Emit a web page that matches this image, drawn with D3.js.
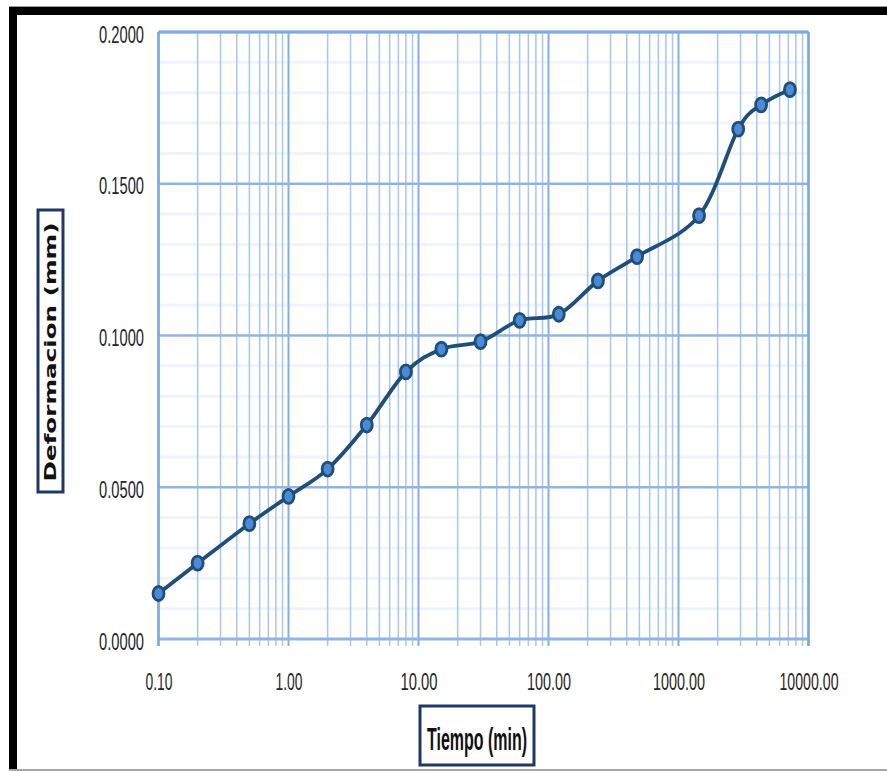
<!DOCTYPE html>
<html><head><meta charset="utf-8">
<script src="https://cdn.jsdelivr.net/npm/d3@7"></script>
<style>html,body{margin:0;padding:0;background:#fff;}svg{display:block;}</style>
</head><body>
<script>
// ---- data ----
const tiempo = [0.1, 0.2, 0.5, 1, 2, 4, 8, 15, 30, 60, 120, 240, 480, 1440, 2880, 4320, 7200];
const deformacion = [0.015, 0.025, 0.038, 0.047, 0.056, 0.0705, 0.088, 0.0955, 0.098, 0.105, 0.107, 0.118, 0.126, 0.1395, 0.168, 0.176, 0.181];
const xTickValues = [0.1, 1, 10, 100, 1000, 10000];
const xTickLabels = ["0.10", "1.00", "10.00", "100.00", "1000.00", "10000.00"];
const yTickValues = [0, 0.05, 0.1, 0.15, 0.2];
const yTickLabels = ["0.0000", "0.0500", "0.1000", "0.1500", "0.2000"];
const xTitle = "Tiempo (min)";
const yTitle = "Deformacion (mm)";

const W = 887, H = 771;
const svg = d3.select("body").append("svg").attr("width", W).attr("height", H);

// outer frame
svg.append("rect").attr("x", 9).attr("y", 6).attr("width", W - 9).attr("height", 1).attr("fill", "#999");
svg.append("rect").attr("x", 9).attr("y", 7).attr("width", W - 9).attr("height", 8).attr("fill", "#000");
svg.append("rect").attr("x", 9).attr("y", 7).attr("width", 8).attr("height", H - 7).attr("fill", "#000");
svg.append("rect").attr("x", 9).attr("y", 769).attr("width", W - 9).attr("height", 2).attr("fill", "#a6a6a6");

const L = 158.5, R = 808.5, T = 32, B = 639;
const x = d3.scaleLog().domain([0.1, 10000]).range([L, R]);
const y = d3.scaleLinear().domain([0, 0.2]).range([B, T]);

// minor horizontal grid
const yMinor = d3.range(0, 0.2001, 0.01).filter(v => Math.abs(v / 0.05 - Math.round(v / 0.05)) > 1e-6);
svg.append("g").selectAll("line").data(yMinor).join("line")
  .attr("x1", L).attr("x2", R).attr("y1", d => y(d)).attr("y2", d => y(d))
  .attr("stroke", "#f0f4fa").attr("stroke-width", 3);

// vertical grid (all log ticks)
const xAll = [];
for (let e = -1; e < 4; e++) for (let m = 1; m <= 9; m++) xAll.push(m * Math.pow(10, e));
xAll.push(10000);
const isMajor = d => xTickValues.some(t => Math.abs(t - d) / t < 1e-6);
svg.append("g").selectAll("line").data(xAll).join("line")
  .attr("x1", d => x(d)).attr("x2", d => x(d)).attr("y1", T).attr("y2", B + 7)
  .attr("stroke", d => isMajor(d) ? "#86aee0" : "#a8c7ed")
  .attr("stroke-width", d => isMajor(d) ? 2 : 1.5);

// major horizontal grid
svg.append("g").selectAll("line").data(yTickValues).join("line")
  .attr("x1", L).attr("x2", R).attr("y1", d => y(d)).attr("y2", d => y(d))
  .attr("stroke", "#8fb5e5").attr("stroke-width", d => d === 0 ? 3 : 2.5);

// plot border
svg.append("line").attr("x1", L).attr("x2", R).attr("y1", T).attr("y2", T).attr("stroke", "#7fa8de").attr("stroke-width", 3);
svg.append("line").attr("x1", R).attr("x2", R).attr("y1", T).attr("y2", B + 7).attr("stroke", "#7fa8de").attr("stroke-width", 2.5);
svg.append("line").attr("x1", L).attr("x2", L).attr("y1", T).attr("y2", B + 7).attr("stroke", "#7fa8de").attr("stroke-width", 2.5);

// axes labels
const xAxis = d3.axisBottom(x).tickValues(xTickValues).tickFormat((d, i) => xTickLabels[i]).tickSize(0).tickPadding(0);
const gx = svg.append("g").attr("transform", `translate(0,${B})`).call(xAxis);
gx.select(".domain").remove();
const xWidths = [27, 27, 37, 44, 52, 59];
gx.selectAll("text").attr("y", 51).attr("dy", 0)
  .attr("font-family", "'Liberation Sans Narrow', 'Liberation Sans', Arial, sans-serif")
  .attr("font-size", 24).attr("fill", "#262626")
  .attr("textLength", (d, i) => xWidths[i]).attr("lengthAdjust", "spacingAndGlyphs");

const yAxis = d3.axisLeft(y).tickValues(yTickValues).tickFormat((d, i) => yTickLabels[i]).tickSize(0).tickPadding(0);
const gy = svg.append("g").attr("transform", `translate(144,0)`).call(yAxis);
gy.select(".domain").remove();
gy.selectAll("text").attr("x", 0).attr("dy", 10).attr("text-anchor", "end")
  .attr("font-family", "'Liberation Sans Narrow', 'Liberation Sans', Arial, sans-serif")
  .attr("font-size", 24).attr("fill", "#262626")
  .attr("textLength", 45).attr("lengthAdjust", "spacingAndGlyphs");

// series
const pts = tiempo.map((t, i) => [t, deformacion[i]]);
const line = d3.line().x(d => x(d[0])).y(d => y(d[1])).curve(d3.curveCatmullRom.alpha(0));
svg.append("path").datum(pts).attr("d", line).attr("fill", "none")
  .attr("stroke", "#1f4e79").attr("stroke-width", 3.8).attr("stroke-linejoin", "round");
svg.append("g").selectAll("ellipse").data(pts).join("ellipse")
  .attr("cx", d => x(d[0])).attr("cy", d => y(d[1])).attr("rx", 5.5).attr("ry", 7)
  .attr("fill", "#4d8ad6").attr("stroke", "#1f4e79").attr("stroke-width", 2.8);

// y title
svg.append("rect").attr("x", 38).attr("y", 210).attr("width", 25).attr("height", 282)
  .attr("fill", "#fff").attr("stroke", "#1f3864").attr("stroke-width", 3);
svg.append("text").attr("transform", "translate(56,352) rotate(-90)")
  .attr("text-anchor", "middle").attr("font-family", "'DejaVu Sans', Verdana, sans-serif")
  .attr("font-weight", "bold").attr("font-size", 16).attr("fill", "#111")
  .attr("textLength", 259).attr("lengthAdjust", "spacingAndGlyphs").text(yTitle);

// x title
svg.append("rect").attr("x", 420).attr("y", 706).attr("width", 114).attr("height", 59)
  .attr("fill", "#fff").attr("stroke", "#1f3864").attr("stroke-width", 3);
svg.append("text").attr("x", 477).attr("y", 750).attr("text-anchor", "middle")
  .attr("font-family", "'Liberation Sans Narrow', 'Liberation Sans', Arial, sans-serif")
  .attr("font-weight", "bold").attr("font-size", 32).attr("fill", "#111")
  .attr("textLength", 100).attr("lengthAdjust", "spacingAndGlyphs").text(xTitle);
</script>
</body></html>
